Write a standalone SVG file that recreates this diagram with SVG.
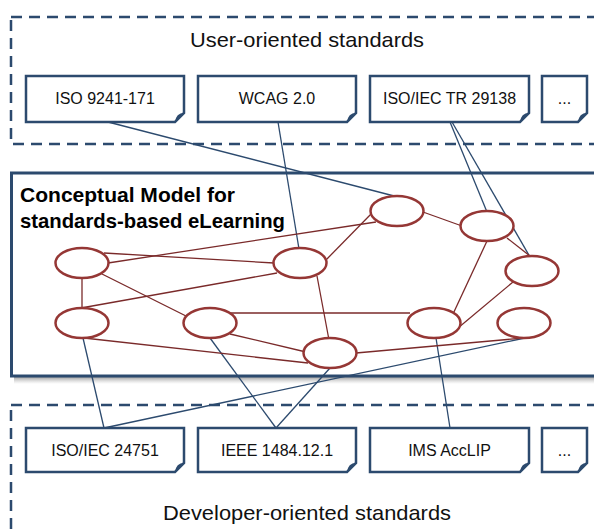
<svg xmlns="http://www.w3.org/2000/svg" width="594" height="530" viewBox="0 0 594 530">
<defs>
<style>
.dash{fill:none;stroke:#2c4a6e;stroke-width:2.5;stroke-dasharray:11 7}
.box{fill:#fff;stroke:#2c4a6e;stroke-width:2.5;stroke-linejoin:miter}
.curl{fill:#2c4a6e;stroke:none}
.lbl{font-family:"Liberation Sans",Arial,sans-serif;font-size:16px;fill:#111;text-anchor:middle}
.grp{font-family:"Liberation Sans",Arial,sans-serif;font-size:21px;fill:#111;text-anchor:middle}
.ttl{font-family:"Liberation Sans",Arial,sans-serif;font-size:21px;font-weight:bold;fill:#000}
.ell{fill:#fff;stroke:#953735;stroke-width:2.5}
.rl{stroke:#7a2a2a;stroke-width:1.3;fill:none}
.bl{stroke:#2c4a6e;stroke-width:1.3;fill:none}
</style>
<linearGradient id="sh" x1="0" y1="0" x2="0" y2="1">
<stop offset="0" stop-color="#8a8a8a" stop-opacity="0.8"/>
<stop offset="1" stop-color="#bbb" stop-opacity="0"/>
</linearGradient>
</defs>
<rect width="594" height="530" fill="#fff"/>

<g id="user-group">
<rect class="dash" x="11" y="17" width="600" height="127"/>
<text class="grp" x="307" y="47" textLength="234" lengthAdjust="spacingAndGlyphs">User-oriented standards</text>
</g>

<g id="dev-group">
<rect class="dash" x="11" y="405" width="600" height="200"/>
<text class="grp" x="307" y="520" textLength="288" lengthAdjust="spacingAndGlyphs">Developer-oriented standards</text>
</g>

<g id="model">
<rect x="14" y="377" width="600" height="7" fill="url(#sh)"/>
<rect x="11.5" y="173" width="600" height="203" fill="#fff" stroke="#2c4a6e" stroke-width="3"/>
<text class="ttl" x="20" y="202" textLength="215" lengthAdjust="spacingAndGlyphs">Conceptual Model for</text>
<text class="ttl" x="20" y="228" textLength="265" lengthAdjust="spacingAndGlyphs">standards-based eLearning</text>
</g>

<g id="connectors">
<line class="bl" x1="108" y1="122" x2="398" y2="197"/>
<line class="bl" x1="278" y1="122" x2="299" y2="249"/>
<line class="bl" x1="450" y1="122" x2="487" y2="212"/>
<line class="bl" x1="452" y1="122" x2="530" y2="257"/>
<line class="bl" x1="104" y1="428" x2="83" y2="338"/>
<line class="bl" x1="104" y1="428" x2="525" y2="338"/>
<line class="bl" x1="276" y1="428" x2="210" y2="338"/>
<line class="bl" x1="276" y1="428" x2="330" y2="368"/>
<line class="bl" x1="450" y1="428" x2="436" y2="338"/>
<line class="rl" x1="104" y1="253" x2="274" y2="263"/>
<line class="rl" x1="108" y1="263" x2="376" y2="222"/>
<line class="rl" x1="82" y1="278" x2="82" y2="308"/>
<line class="rl" x1="102" y1="274" x2="190" y2="318"/>
<line class="rl" x1="81" y1="308" x2="277" y2="273"/>
<line class="rl" x1="324" y1="262" x2="373" y2="212"/>
<line class="rl" x1="317" y1="276" x2="329" y2="340"/>
<line class="rl" x1="423" y1="212" x2="462" y2="226"/>
<line class="rl" x1="507" y1="238" x2="530" y2="256"/>
<line class="rl" x1="487" y1="241" x2="453" y2="314"/>
<line class="rl" x1="513" y1="282" x2="458" y2="328"/>
<line class="rl" x1="230" y1="313" x2="410" y2="313"/>
<line class="rl" x1="230" y1="334" x2="306" y2="352"/>
<line class="rl" x1="84" y1="338" x2="308" y2="363"/>
<line class="rl" x1="356" y1="353" x2="524" y2="338"/>
</g>

<g id="nodes">
<g id="u1"><path class="box" d="M26 76H184V113L175 122H26Z"/><path class="curl" d="M175 122L184 113Q176 113 175 122Z"/><text class="lbl" x="105" y="104">ISO 9241-171</text></g>
<g id="u2"><path class="box" d="M198 76H356V113L347 122H198Z"/><path class="curl" d="M347 122L356 113Q348 113 347 122Z"/><text class="lbl" x="277" y="104">WCAG 2.0</text></g>
<g id="u3"><path class="box" d="M370 76H529V113L520 122H370Z"/><path class="curl" d="M520 122L529 113Q521 113 520 122Z"/><text class="lbl" x="449.5" y="104">ISO/IEC TR 29138</text></g>
<g id="u4"><path class="box" d="M542 76H587V113L578 122H542Z"/><path class="curl" d="M578 122L587 113Q579 113 578 122Z"/><text class="lbl" x="564.5" y="104">...</text></g>

<g id="d1"><path class="box" d="M26 428H184V463L175 472H26Z"/><path class="curl" d="M175 472L184 463Q176 463 175 472Z"/><text class="lbl" x="105" y="456">ISO/IEC 24751</text></g>
<g id="d2"><path class="box" d="M198 428H356V463L347 472H198Z"/><path class="curl" d="M347 472L356 463Q348 463 347 472Z"/><text class="lbl" x="277" y="456">IEEE 1484.12.1</text></g>
<g id="d3"><path class="box" d="M370 428H529V463L520 472H370Z"/><path class="curl" d="M520 472L529 463Q521 463 520 472Z"/><text class="lbl" x="449.5" y="456">IMS AccLIP</text></g>
<g id="d4"><path class="box" d="M542 428H587V463L578 472H542Z"/><path class="curl" d="M578 472L587 463Q579 463 578 472Z"/><text class="lbl" x="564.5" y="456">...</text></g>

<g id="e1"><ellipse class="ell" cx="397" cy="211" rx="26.5" ry="15"/></g>
<g id="e2"><ellipse class="ell" cx="487" cy="226" rx="26.5" ry="15"/></g>
<g id="e3"><ellipse class="ell" cx="532" cy="271" rx="26.5" ry="15"/></g>
<g id="e4"><ellipse class="ell" cx="82" cy="263" rx="26.5" ry="15"/></g>
<g id="e5"><ellipse class="ell" cx="300" cy="263" rx="26.5" ry="15"/></g>
<g id="e6"><ellipse class="ell" cx="82" cy="323" rx="26.5" ry="15"/></g>
<g id="e7"><ellipse class="ell" cx="210" cy="323" rx="26.5" ry="15"/></g>
<g id="e8"><ellipse class="ell" cx="434" cy="323" rx="26.5" ry="15"/></g>
<g id="e9"><ellipse class="ell" cx="524" cy="323" rx="26.5" ry="15"/></g>
<g id="e10"><ellipse class="ell" cx="330" cy="353" rx="26.5" ry="15"/></g>
</g>
</svg>
